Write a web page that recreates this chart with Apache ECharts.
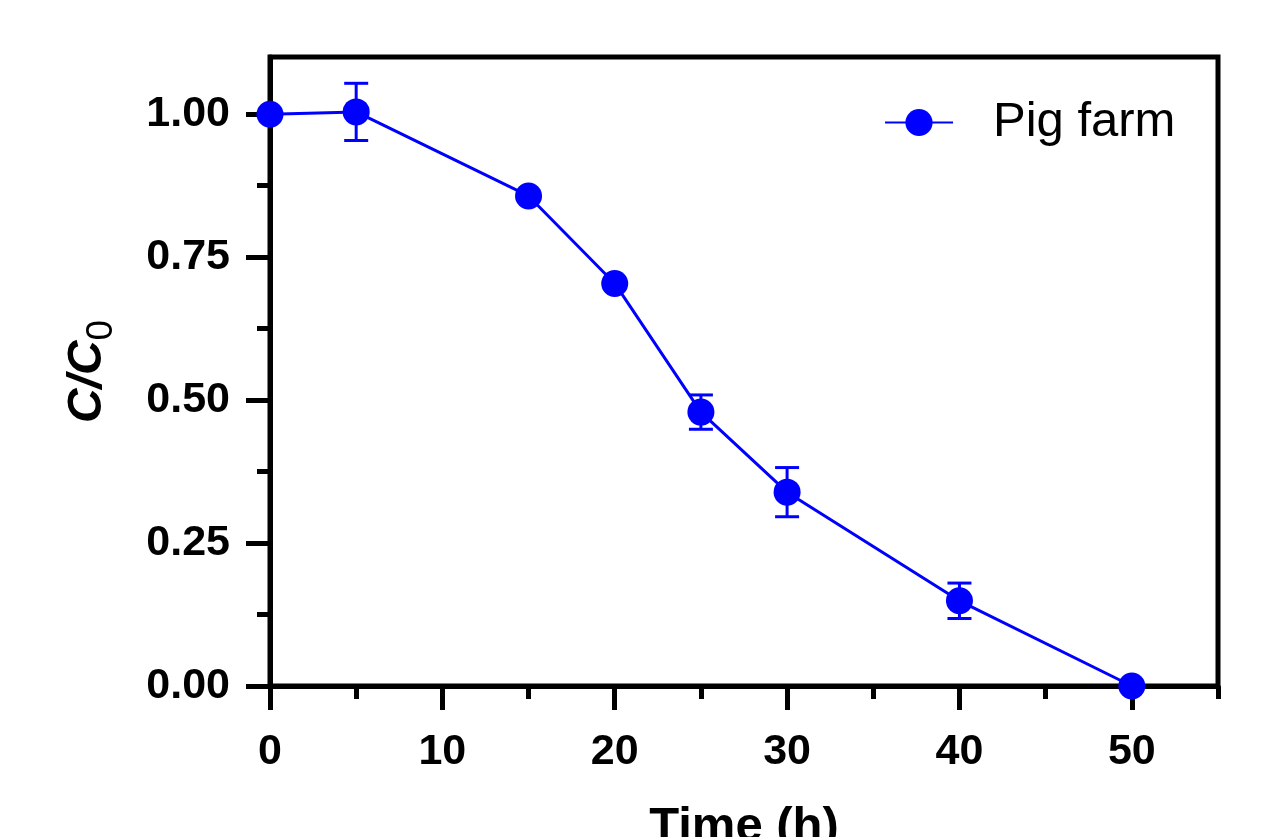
<!DOCTYPE html>
<html lang="en">
  <head>
    <meta charset="UTF-8" />
    <title>Pig farm C/C0</title>
    <script src="https://cdn.jsdelivr.net/npm/echarts@6/dist/echarts.min.js"></script>
    <style>
      html, body { margin: 0; padding: 0; background: #fff; }
      #main { width: 1272px; height: 837px; }
    </style>
  </head>
  <body>
    <div id="main"></div>

    <script>
      const times = [0, 5, 15, 20, 25, 30, 40, 50];
      const ratio = [1.0, 1.004, 0.857, 0.704, 0.479, 0.339, 0.149, 0.0];
      const errors = [0, 0.05, 0, 0, 0.03, 0.043, 0.031, 0];

      const xMajorTicks = [0, 10, 20, 30, 40, 50];
      const xMinorTicks = [5, 15, 25, 35, 45, 55];
      const yMajorTicks = [0, 0.25, 0.5, 0.75, 1.0];
      const yMinorTicks = [0.125, 0.375, 0.625, 0.875];

      const font = '"Liberation Sans", Arial, sans-serif';
      const blue = '#0000ff';

      const axisLine = { show: true, lineStyle: { color: '#000', width: 5 } };
      const tickLine = { color: '#000', width: 5 };

      const chart = echarts.init(document.getElementById('main'));

      const options = {
        animation: false,
        grid: {
          left: 270, right: 54, top: 57, bottom: 151,
          outerBoundsMode: 'none', containLabel: false,
          show: true, borderColor: '#000', borderWidth: 5
        },
        legend: {
          left: 884, top: 98, padding: 0,
          itemWidth: 68, itemHeight: 34,
          textStyle: { fontFamily: font, fontSize: 49, color: '#000', padding: [0, 0, 0, 35] },
          data: ['Pig farm']
        },
        xAxis: [
          {
            type: 'value', min: 0, max: 55, position: 'bottom',
            axisLine: axisLine,
            axisTick: { length: 24, lineStyle: tickLine, customValues: xMajorTicks },
            axisLabel: {
              customValues: xMajorTicks, margin: 45,
              fontFamily: font, fontSize: 43, fontWeight: 'bold', color: '#000'
            },
            splitLine: { show: false },
            name: 'Time (h)', nameLocation: 'middle', nameGap: 117,
            nameTextStyle: { fontFamily: font, fontSize: 49, fontWeight: 'bold', color: '#000' }
          },
          {
            type: 'value', min: 0, max: 55, position: 'bottom',
            axisLine: { show: false },
            axisTick: { length: 13, lineStyle: tickLine, customValues: xMinorTicks },
            axisLabel: { show: false },
            splitLine: { show: false }
          }
        ],
        yAxis: [
          {
            type: 'value', min: 0, max: 1.1, position: 'left',
            axisLine: axisLine,
            axisTick: { length: 24, lineStyle: tickLine, customValues: yMajorTicks },
            axisLabel: {
              customValues: yMajorTicks, margin: 40,
              formatter: (v) => v.toFixed(2),
              fontFamily: font, fontSize: 43, fontWeight: 'bold', color: '#000'
            },
            splitLine: { show: false },
            name: '{a|C/C}{b|0}', nameLocation: 'middle', nameGap: 150,
            nameTextStyle: {
              rich: {
                a: { fontFamily: font, fontSize: 48, fontWeight: 'bold', fontStyle: 'italic', color: '#000', verticalAlign: 'top' },
                b: { fontFamily: font, fontSize: 37, color: '#000', verticalAlign: 'bottom', padding: [19, 0, 0, 0] }
              }
            }
          },
          {
            type: 'value', min: 0, max: 1.1, position: 'left',
            axisLine: { show: false },
            axisTick: { length: 13, lineStyle: tickLine, customValues: yMinorTicks },
            axisLabel: { show: false },
            splitLine: { show: false }
          }
        ],
        series: [
          {
            name: 'Pig farm-err',
            type: 'custom',
            xAxisIndex: 0, yAxisIndex: 0,
            data: times.map((t, i) => [t, ratio[i], errors[i]]),
            clip: false,
            renderItem: function (params, api) {
              const e = api.value(2);
              if (!e) return null;
              const x = api.value(0), y = api.value(1);
              const top = api.coord([x, y + e]);
              const bot = api.coord([x, y - e]);
              const w = 12;
              const style = { stroke: blue, lineWidth: 3 };
              return {
                type: 'group',
                children: [
                  { type: 'line', shape: { x1: top[0], y1: top[1], x2: bot[0], y2: bot[1] }, style: style },
                  { type: 'line', shape: { x1: top[0] - w, y1: top[1], x2: top[0] + w, y2: top[1] }, style: style },
                  { type: 'line', shape: { x1: bot[0] - w, y1: bot[1], x2: bot[0] + w, y2: bot[1] }, style: style }
                ]
              };
            },
            z: 3
          },
          {
            name: 'Pig farm',
            type: 'line',
            xAxisIndex: 0, yAxisIndex: 0,
            data: times.map((t, i) => [t, ratio[i]]),
            symbol: 'circle',
            symbolSize: 27,
            clip: false,
            itemStyle: { color: blue },
            lineStyle: { color: blue, width: 3 },
            z: 4
          }
        ]
      };

      chart.setOption(options);

      window.onresize = function () {
        chart.resize();
      };
    </script>
  </body>
</html>
